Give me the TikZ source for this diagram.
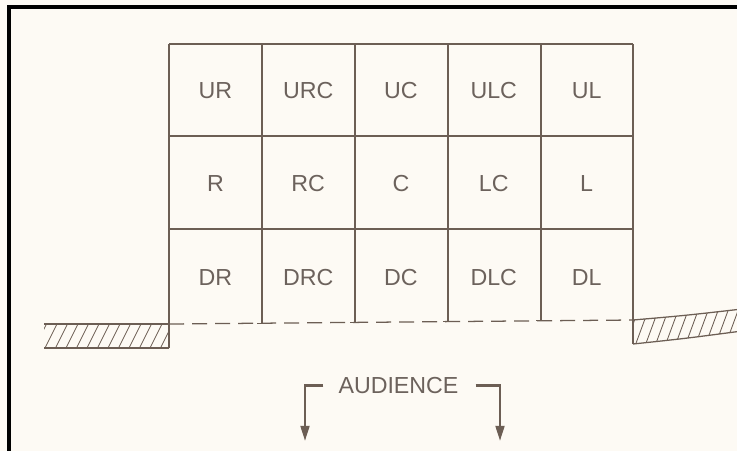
\documentclass[tikz,border=0pt]{standalone}
\usepackage{fontspec}
\setmainfont{Liberation Sans}
\usepackage{tikz}
\usetikzlibrary{arrows.meta,positioning}

\definecolor{paper}{RGB}{253,250,244}
\definecolor{ink}{RGB}{108,94,84}
\definecolor{labelgray}{RGB}{108,98,92}

\begin{document}
\begin{tikzpicture}[
  x=0.025cm,
  y=-0.025cm,
  gridline/.style={draw=ink, line width=0.9pt},
  ground/.style={draw=ink, line width=0.9pt, dash pattern=on 0.375cm off 0.2cm},
  hatch/.style={draw=ink, line width=0.6pt},
  spot/.style={font=\fontsize{16.5}{19}\selectfont, text=labelgray, inner sep=2pt},
  audarrow/.style={draw=ink, line width=1.8pt,
    -{Triangle[length=0.38cm, width=0.22cm]}}
]
  % paper and frame
  \useasboundingbox (0,0) rectangle (737,450);
  \fill[paper] (-5,-5) rectangle (745,455);
  \draw[black, line width=2.2pt] (9,455) -- (9,7) -- (745,7);

  % stage areas
  \draw[gridline] (169,44) -- (633,44);
  \draw[gridline] (169,136) -- (633,136);
  \draw[gridline] (169,229) -- (633,229);
  \draw[gridline] (169,44) -- (169,348);
  \draw[gridline] (633,44) -- (633,344);
  \foreach \x/\y in {262/323.2, 355/322.4, 448/321.6, 541/320.8} {
    \draw[gridline] (\x,44) -- (\x,\y);
    \draw[gridline] (\x-5,\y) -- (\x+5,\y);
  }

  % curtain line
  \draw[ground] (169,324) -- (633,320);

  % wings, left and right
  \draw[gridline] (44,324) -- (169,324);
  \draw[gridline] (44,348) -- (169,348);
  \begin{scope}
    \clip (44,324) rectangle (169,348);
    \foreach \x in {24,34.5,...,180}
      \draw[hatch] (\x,348) -- ++(12,-24);
  \end{scope}
  \draw[gridline] (633,320) .. controls (685,315.5) .. (742,309);
  \draw[gridline] (633,344) .. controls (685,338.5) .. (742,331);
  \begin{scope}
    \clip (633,320) .. controls (685,315.5) .. (742,309)
      -- (742,331) .. controls (685,338.5) .. (633,344) -- cycle;
    \foreach \x in {615,625,...,760}
      \draw[hatch] (\x,346) -- ++(14,-38);
  \end{scope}

  % area names
  \foreach \lab [count=\i] in {UR,URC,UC,ULC,UL}
    \node[spot] (\lab) at ({122.6+92.8*\i},91) {\lab};
  \foreach \lab [count=\i] in {R,RC,C,LC,L}
    \node[spot] (\lab) at ({122.6+92.8*\i},184) {\lab};
  \foreach \lab [count=\i] in {DR,DRC,DC,DLC,DL}
    \node[spot] (\lab) at ({122.6+92.8*\i},278) {\lab};

  % house side
  \node[spot] (aud) at (398.5,385.5) {AUDIENCE};
  \coordinate (audleft) at (305,441);
  \coordinate (audright) at (500,441);
  \draw[audarrow] ([xshift=-0.3cm]aud.west) -| (audleft);
  \draw[audarrow] ([xshift=0.35cm]aud.east) -| (audright);
\end{tikzpicture}
\end{document}
